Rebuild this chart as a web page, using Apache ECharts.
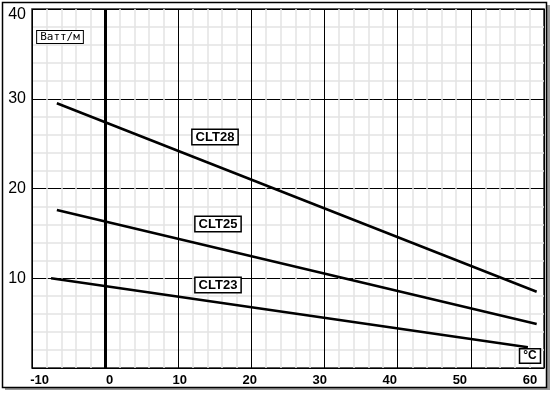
<!DOCTYPE html>
<html>
<head>
<meta charset="utf-8">
<script src="https://cdn.jsdelivr.net/npm/echarts@6/dist/echarts.min.js"></script>
<style>html,body{margin:0;padding:0;background:#fff}#c{width:553px;height:393px}</style>
</head>
<body>
<div id="c"></div>
<script>
const seriesNames = ['CLT28', 'CLT25', 'CLT23'];
const clt28 = [[-6.6, 29.5], [59.0, 8.5]];
const clt25 = [[-6.6, 17.6], [59.0, 4.9]];
const clt23 = [[-7.4, 10.0], [57.8, 2.3]];
const xTickLabels = [-10, 0, 10, 20, 30, 40, 50, 60];
const yTickLabels = [10, 20, 30, 40];
const yUnit = 'Ватт/м';
const xUnit = '°C';

const chart = echarts.init(document.getElementById('c'), null, {renderer: 'canvas'});
const lineSeries = [clt28, clt25, clt23].map((d, i) => ({
  name: seriesNames[i], type: 'line', data: d, symbol: 'none', silent: true,
  lineStyle: {color: '#000', width: 2.5}, z: 5,
  markLine: i === 0 ? {
    silent: true, symbol: 'none', label: {show: false},
    lineStyle: {color: '#000', width: 3, type: 'solid'},
    data: [{xAxis: 0}]
  } : undefined
}));

const boxText = (x, y, text, font, bw) => ({
  type: 'text', x: x, y: y, z: 100,
  style: {
    text: text, font: font, fill: '#000', align: 'center', verticalAlign: 'middle',
    backgroundColor: '#fff', borderColor: '#000', borderWidth: bw, padding: [1, 3, 0, 3]
  }
});

chart.setOption({
  animation: false,
  backgroundColor: '#fff',
  grid: {left: 32, top: 9, right: 9, bottom: 25, show: true, borderColor: '#222', borderWidth: 1.5, backgroundColor: 'transparent'},
  xAxis: [{
    type: 'value', min: -10, max: 60, interval: 10,
    axisLine: {show: false}, axisTick: {show: false}, axisLabel: {show: false},
    splitLine: {show: true, lineStyle: {color: '#000', width: 1}},
    minorTick: {show: false, splitNumber: 5},
    minorSplitLine: {show: true, lineStyle: {color: '#e3e3e3', width: 1.5}}
  }, {
    type: 'value', min: -11.08, max: 62.01, position: 'bottom',
    axisLine: {show: false}, axisTick: {show: false}, splitLine: {show: false},
    axisLabel: {
      show: true, customValues: xTickLabels, margin: 6,
      fontFamily: 'Liberation Sans, Arial, sans-serif', fontWeight: 'bold', fontSize: 13, color: '#000'
    }
  }],
  yAxis: {
    type: 'value', min: 0, max: 40, interval: 10,
    axisLine: {show: false}, axisTick: {show: false},
    axisLabel: {
      customValues: yTickLabels, margin: 6,
      fontFamily: 'Liberation Sans, Arial, sans-serif', fontSize: 16, color: '#000',
      formatter: v => (v === 40 ? '{a|' + v + '}' : String(v)),
      rich: {a: {fontFamily: 'Liberation Sans, Arial, sans-serif', fontSize: 16, color: '#000', padding: [12, 0, 0, 0]}}
    },
    splitLine: {show: true, lineStyle: {color: '#000', width: 1}},
    minorTick: {show: false, splitNumber: 5},
    minorSplitLine: {show: true, lineStyle: {color: '#e3e3e3', width: 1.5}}
  },
  series: lineSeries,
  graphic: [
    {type: 'rect', z: -10, shape: {x: 5, y: 5, width: 545, height: 385}, style: {fill: '#999'}},
    {type: 'rect', z: -9, shape: {x: 2.5, y: 2.5, width: 544, height: 385}, style: {fill: '#fff', stroke: '#000', lineWidth: 1.5}},
    boxText(60, 37, yUnit, '11px DejaVu Sans Mono, monospace', 1),
    boxText(215, 137, seriesNames[0], 'bold 13px Liberation Sans, Arial, sans-serif', 1.5),
    boxText(218, 224, seriesNames[1], 'bold 13px Liberation Sans, Arial, sans-serif', 1.5),
    boxText(218, 285, seriesNames[2], 'bold 13px Liberation Sans, Arial, sans-serif', 1.5),
    boxText(530, 356, xUnit, 'bold 12px Liberation Sans, Arial, sans-serif', 1.5)
  ]
});
</script>
</body>
</html>
